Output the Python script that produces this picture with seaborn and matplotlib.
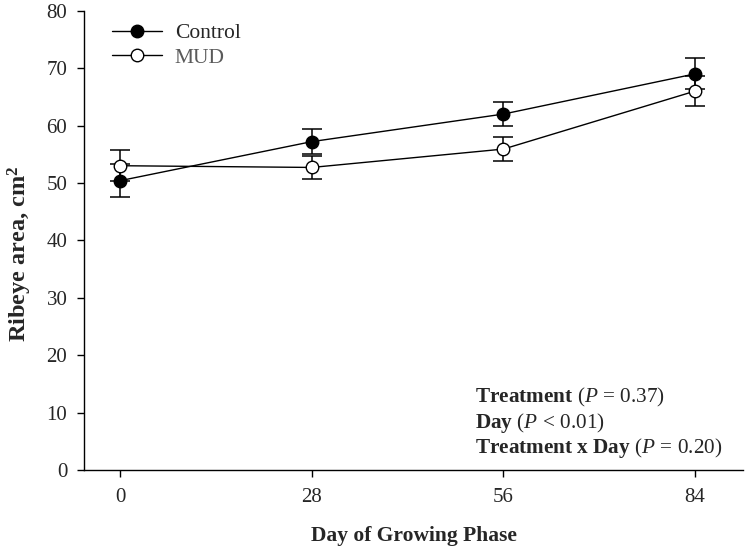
import pandas as pd
import matplotlib
matplotlib.use("Agg")
import matplotlib.pyplot as plt
import seaborn as sns
from matplotlib.lines import Line2D

# ---- data ----
days = [0, 28, 56, 84]
control_mean = [50.4, 57.2, 62.0, 69.0]
control_se = [2.9, 2.2, 2.15, 2.7]
mud_mean = [53.0, 52.7, 55.9, 66.0]
mud_se = [2.7, 2.0, 2.05, 2.6]
stats_labels = ["Treatment", "Day", "Treatment x Day"]
stats_values = ["= 0.37", "< 0.01", "= 0.20"]

df = pd.DataFrame({
    "day": days * 2,
    "area": control_mean + mud_mean,
    "se": control_se + mud_se,
    "group": ["Control"] * 4 + ["MUD"] * 4,
})

sns.set_style("ticks")
plt.rcParams["font.family"] = ["Liberation Serif", "DejaVu Serif"]
plt.rcParams["mathtext.fontset"] = "custom"
plt.rcParams["mathtext.rm"] = "Liberation Serif"
plt.rcParams["mathtext.it"] = "Liberation Serif:italic"
plt.rcParams["mathtext.bf"] = "Liberation Serif:bold"

fig = plt.figure(figsize=(7.48, 5.49), dpi=100)
ax = fig.add_axes([0.1123, 0.1439, 0.881, 0.8366])

styles = {"Control": "black", "MUD": "white"}
for grp, face in styles.items():
    sub = df[df["group"] == grp]
    ax.errorbar(sub["day"], sub["area"], yerr=sub["se"], fmt="none",
                ecolor="black", elinewidth=1.1, capsize=7, capthick=1.1, zorder=2)
    sns.lineplot(data=sub, x="day", y="area", ax=ax, color="black", linewidth=1.0,
                 marker="o", markersize=9, markerfacecolor=face,
                 markeredgecolor="black", markeredgewidth=1.0, zorder=3)

ax.set_xlim(-5.3, 91)
ax.set_ylim(0, 80)
ax.set_xticks(days)
ax.set_yticks(range(0, 81, 10))
ax.tick_params(axis="both", direction="out", length=5, width=1, labelsize=15, color="black")
ax.tick_params(axis="y", pad=7)
ax.tick_params(axis="x", pad=8)
for s in ["top", "right"]:
    ax.spines[s].set_visible(False)
for s in ["left", "bottom"]:
    ax.spines[s].set_linewidth(1.0)
    ax.spines[s].set_color("black")

ax.set_xlabel("Day of Growing Phase", fontsize=15.5, fontweight="bold", labelpad=14)
ax.set_ylabel("Ribeye area, cm$^\\mathbf{2}$", fontsize=17.5, fontweight="bold", labelpad=8)
ax.yaxis.set_label_coords(-0.076, 0.47)

handles = [
    Line2D([], [], color="black", lw=1, marker="o", ms=9, mfc="black", mec="black"),
    Line2D([], [], color="black", lw=1, marker="o", ms=9, mfc="white", mec="black"),
]
leg = ax.legend(handles, ["Control", "MUD"], loc="upper left", frameon=False,
                fontsize=15.5, handlelength=2.3, handletextpad=0.6,
                bbox_to_anchor=(0.03, 0.992), borderaxespad=0, labelspacing=0.22)
leg.get_texts()[1].set_color("#5a5a5a")

y0 = 12.7
for i, (lab, val) in enumerate(zip(stats_labels, stats_values)):
    bold = lab.replace(" ", "\\ ")
    ax.text(51.9, y0 - i * 4.45, f"$\\mathbf{{{bold}}}$ ($\\mathit{{P}}$ {val})",
            fontsize=15.3, va="center", ha="left")

fig.savefig("out.png", dpi=100)
